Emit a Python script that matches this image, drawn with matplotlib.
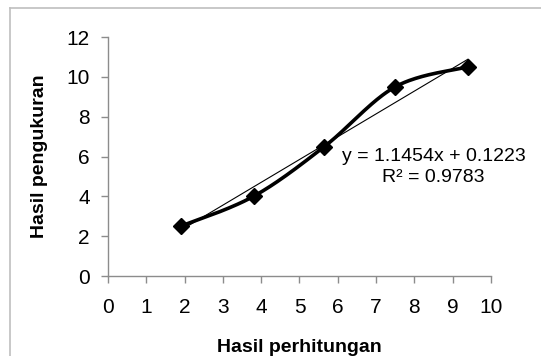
import numpy as np
import matplotlib
matplotlib.use("Agg")
import matplotlib.pyplot as plt
from matplotlib.lines import Line2D

# data
hitung = [1.9, 3.8, 5.65, 7.5, 9.4]
ukur = [2.5, 4.0, 6.5, 9.5, 10.5]
slope, intercept = 1.1454, 0.1223
r2 = 0.9783


def smooth(xs, ys, n=40):
    # bezier smoothing like the spreadsheet "smoothed line"
    p = np.column_stack([xs, ys])
    p_ext = np.vstack([p[0], p, p[-1]])
    out = []
    for i in range(1, len(p_ext) - 2):
        p0, p1, p2, p3 = p_ext[i - 1], p_ext[i], p_ext[i + 1], p_ext[i + 2]
        c1 = p1 + (p2 - p0) / 6
        c2 = p2 - (p3 - p1) / 6
        t = np.linspace(0, 1, n)[:, None]
        seg = ((1 - t) ** 3) * p1 + 3 * ((1 - t) ** 2) * t * c1 + 3 * (1 - t) * t ** 2 * c2 + t ** 3 * p2
        out.append(seg)
    out = np.vstack(out)
    return out[:, 0], out[:, 1]


plt.rcParams['font.family'] = ['Liberation Sans', 'DejaVu Sans']

fig = plt.figure(figsize=(5.41, 3.56), dpi=100)
ax = fig.add_axes([0.1996, 0.2247, 0.708, 0.6713])

sx, sy = smooth(hitung, ukur)
ax.plot(sx, sy, color='black', lw=2.6, solid_capstyle='round', zorder=3)
ax.plot(hitung, ukur, ls='none', marker='D', ms=8.5, color='black', zorder=4)

tx = np.array([hitung[0], hitung[-1]])
ax.plot(tx, slope * tx + intercept, color='black', lw=0.8, zorder=2)

ax.text(8.5, 5.47, f'y = {slope}x + {intercept}\nR² = {r2}', ha='center', va='center',
        fontsize=14, linespacing=1.3)

ax.set_xlim(0, 10)
ax.set_ylim(0, 12)
ax.set_xticks(range(0, 11, 1))
ax.set_yticks(range(0, 13, 2))
for s in ['top', 'right']:
    ax.spines[s].set_visible(False)
for s in ['left', 'bottom']:
    ax.spines[s].set_color('#8c8c8c')
    ax.spines[s].set_linewidth(1.0)
ax.tick_params(colors='#8c8c8c', labelcolor='black', length=5, width=1.0, labelsize=15, pad=8)
ax.tick_params(axis='x', pad=11)

ax.set_xlabel('Hasil perhitungan', fontsize=14, fontweight='bold', labelpad=16)
ax.set_ylabel('Hasil pengukuran', fontsize=14, fontweight='bold', labelpad=13)

# chart frame
fig.add_artist(Line2D([10 / 541, 10 / 541], [0, 1 - 8 / 356], color='#bfbfbf', lw=1.2))
fig.add_artist(Line2D([10 / 541, 1], [1 - 8 / 356, 1 - 8 / 356], color='#bfbfbf', lw=1.2))

fig.savefig('out.png', dpi=100)
